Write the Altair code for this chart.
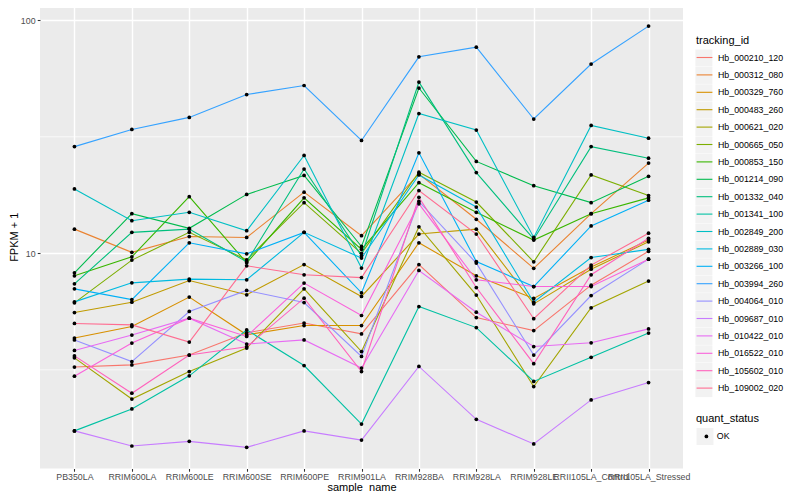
import altair as alt
import pandas as pd

samples = ["PB350LA", "RRIM600LA", "RRIM600LE", "RRIM600SE", "RRIM600PE", "RRIM901LA",
           "RRIM928BA", "RRIM928LA", "RRIM928LE", "RRII105LA_Control", "RRII105LA_Stressed"]

ids = ["Hb_000210_120", "Hb_000312_080", "Hb_000329_760", "Hb_000483_260", "Hb_000621_020",
       "Hb_000665_050", "Hb_000853_150", "Hb_001214_090", "Hb_001332_040", "Hb_001341_100",
       "Hb_002849_200", "Hb_002889_030", "Hb_003266_100", "Hb_003994_260", "Hb_004064_010",
       "Hb_009687_010", "Hb_010422_010", "Hb_016522_010", "Hb_105602_010", "Hb_109002_020"]

colors = ["#F8766D", "#EA8331", "#D89000", "#C09B00", "#A3A500", "#7CAE00", "#39B600",
          "#00BB4E", "#00BF7D", "#00C1A3", "#00BFC4", "#00BAE0", "#00B0F6", "#35A2FF",
          "#9590FF", "#C77CFF", "#E76BF3", "#FA62DB", "#FF62BC", "#FF6C91"]

# FPKM + 1 per tracking_id, one value per sample (in sample order)
hb_000210_120 = [3.25, 3.32, 3.66, 4.56, 5.02, 4.51, 8.95, 5.30, 4.66, 7.30, 10.2]
hb_000312_080 = [12.7, 10.1, 11.8, 11.7, 18.3, 11.9, 21.9, 14.0, 8.62, 14.8, 24.4]
hb_000329_760 = [4.33, 4.85, 6.49, 4.47, 4.90, 4.90, 11.1, 8.01, 6.40, 8.73, 11.4]
hb_000483_260 = [5.57, 6.17, 7.64, 6.64, 8.95, 6.53, 12.1, 12.7, 6.07, 8.55, 11.2]
hb_000621_020 = [3.56, 2.37, 3.11, 3.92, 7.04, 3.79, 13.0, 6.62, 2.68, 5.84, 7.60]
hb_000665_050 = [6.13, 9.35, 12.3, 9.38, 16.5, 10.0, 22.3, 16.6, 9.19, 21.7, 17.7]
hb_000853_150 = [8.01, 9.66, 17.5, 9.10, 17.3, 10.4, 20.1, 15.0, 11.4, 14.8, 17.3]
hb_001214_090 = [8.25, 14.8, 12.8, 17.9, 21.6, 10.7, 51.2, 24.8, 19.5, 16.5, 21.4]
hb_001332_040 = [7.40, 12.3, 12.7, 9.19, 23.0, 9.76, 54.3, 22.2, 11.5, 28.7, 25.6]
hb_001341_100 = [1.73, 2.15, 2.98, 4.69, 3.30, 1.85, 5.91, 4.80, 2.82, 3.58, 4.55]
hb_002849_200 = [18.9, 13.8, 15.0, 12.5, 26.3, 8.64, 39.8, 33.8, 11.7, 35.4, 31.2]
hb_002889_030 = [6.19, 7.47, 7.75, 7.70, 12.3, 9.54, 21.7, 15.8, 6.17, 9.59, 10.4]
hb_003266_100 = [7.04, 6.33, 11.1, 9.95, 12.3, 6.77, 27.0, 9.22, 7.20, 13.1, 16.9]
hb_003994_260 = [28.7, 34.0, 38.3, 48.0, 52.5, 30.5, 69.7, 76.7, 37.7, 64.9, 94.4]
hb_004064_010 = [4.25, 3.43, 5.63, 6.93, 6.15, 3.61, 16.7, 9.08, 3.66, 6.59, 9.44]
hb_009687_010 = [1.73, 1.49, 1.56, 1.47, 1.73, 1.58, 3.27, 1.94, 1.52, 2.35, 2.79]
hb_010422_010 = [3.83, 4.46, 5.27, 4.08, 4.25, 3.22, 8.44, 5.59, 3.98, 4.13, 4.74]
hb_016522_010 = [2.97, 4.12, 5.27, 4.40, 7.45, 5.41, 16.3, 7.70, 7.20, 7.20, 9.44]
hb_105602_010 = [3.63, 2.51, 3.66, 3.97, 6.42, 3.11, 17.4, 7.13, 3.36, 8.09, 11.6]
hb_109002_020 = [5.00, 4.93, 4.16, 8.84, 8.09, 7.87, 18.6, 12.1, 5.24, 8.90, 12.2]

series = [hb_000210_120, hb_000312_080, hb_000329_760, hb_000483_260, hb_000621_020,
          hb_000665_050, hb_000853_150, hb_001214_090, hb_001332_040, hb_001341_100,
          hb_002849_200, hb_002889_030, hb_003266_100, hb_003994_260, hb_004064_010,
          hb_009687_010, hb_010422_010, hb_016522_010, hb_105602_010, hb_109002_020]

quant_status = "OK"
y_breaks = [10, 100]
minor_breaks = [3.1623, 31.623]
y_limits = [1.193, 116.3]
key_fill = "#F2F2F2"

# keys for the grey legend boxes (distinct values so Vega-Lite keeps separate legends)
box_keys = ["box " + t for t in ids]
ok_key = "box " + quant_status

rows = []
for tid, bk, vals in zip(ids, box_keys, series):
    for i, (s, v) in enumerate(zip(samples, vals)):
        rows.append({"tracking_id": tid, "key_id": bk, "sample_name": s, "idx": i,
                     "fpkm1": v, "quant_status": quant_status, "key_status": ok_key})
df = pd.DataFrame(rows)
minor_df = pd.DataFrame({"fpkm1": minor_breaks})

FONT = "Liberation Sans"

yscale = alt.Scale(type="log", domain=y_limits, nice=False)
xscale = alt.Scale(type="point", padding=0.6)

x_enc = alt.X("sample_name:N", sort=samples, scale=xscale,
              axis=alt.Axis(title="sample_name", labelAngle=0, labelAlign="center",
                            labelBaseline="top", labelFontSize=8.8,
                            labelColor="#4D4D4D", tickColor="#333333", tickSize=2.75,
                            tickWidth=1.07, labelPadding=1, domain=False, grid=True,
                            gridColor="white", gridWidth=1.4, titleFontSize=11,
                            titleFontWeight="normal", titleColor="black", titlePadding=0,
                            labelOverlap=False, labelFlush=False))
y_enc = alt.Y("fpkm1:Q", scale=yscale,
              axis=alt.Axis(title="FPKM + 1", values=y_breaks, format="d", labelFontSize=8.8,
                            labelColor="#4D4D4D", tickColor="#333333", tickSize=2.75,
                            tickWidth=1.07, labelPadding=2.2, domain=False, grid=True,
                            gridColor="white", gridWidth=1.4, titleFontSize=11,
                            titleFontWeight="normal", titleColor="black", titlePadding=1))

minor = alt.Chart(minor_df).mark_rule(color="white", strokeWidth=0.7).encode(
    y=alt.Y("fpkm1:Q", scale=yscale, title="FPKM + 1")
)

# invisible layer: its legend draws the grey key boxes behind the tracking_id keys
key_boxes = alt.Chart(df).mark_square(opacity=0).encode(
    x=x_enc, y=y_enc,
    color=alt.Color("key_id:N",
                    scale=alt.Scale(domain=box_keys, range=[key_fill] * len(box_keys)),
                    legend=alt.Legend(title=None, orient="none", legendX=655.4, legendY=44.5,
                                      symbolType="square", symbolSize=289,
                                      symbolStrokeWidth=0, symbolOpacity=1,
                                      symbolFillColor=key_fill, labelExpr="''",
                                      labelFontSize=8.8, rowPadding=0.4, padding=0)),
)

# invisible layer: its legend draws the grey key box behind the quant_status key
ok_box = alt.Chart(df).mark_square(opacity=0).encode(
    x=x_enc, y=y_enc,
    fill=alt.Fill("key_status:N", scale=alt.Scale(domain=[ok_key], range=[key_fill]),
                  legend=alt.Legend(title=None, orient="none", legendX=656.5, legendY=423,
                                    symbolType="square", symbolSize=289,
                                    symbolStrokeWidth=0, symbolOpacity=1,
                                    symbolFillColor=key_fill, labelExpr="''",
                                    labelFontSize=8.8, padding=0)),
)

lines = alt.Chart(df).mark_line(strokeWidth=1.1).encode(
    x=x_enc,
    y=y_enc,
    stroke=alt.Stroke("tracking_id:N", scale=alt.Scale(domain=ids, range=colors),
                      legend=alt.Legend(title="tracking_id", orient="none", legendX=656,
                                        legendY=30, symbolType="stroke", symbolSize=250,
                                        symbolStrokeWidth=1.1, labelFontSize=8.8,
                                        labelColor="black", titleFontSize=11,
                                        titleFontWeight="normal", titleColor="black",
                                        titlePadding=3, rowPadding=3.4, padding=0,
                                        labelOffset=5)),
    order=alt.Order("idx:Q"),
)

points = alt.Chart(df).mark_point(filled=True, size=14, opacity=1, color="black").encode(
    x=x_enc,
    y=y_enc,
    shape=alt.Shape("quant_status:N", scale=alt.Scale(domain=[quant_status], range=["circle"]),
                    legend=alt.Legend(title="quant_status", orient="none", legendX=656,
                                      legendY=408, symbolSize=14, symbolFillColor="black",
                                      symbolStrokeColor="black", symbolOffset=6,
                                      labelFontSize=8.8, labelColor="black",
                                      titleFontSize=11, titleFontWeight="normal",
                                      titleColor="black", titlePadding=8, padding=0,
                                      labelOffset=6)),
)

chart = alt.layer(minor, key_boxes, ok_box, lines, points).properties(
    width=643, height=463.5,
    padding={"left": 32, "top": -3, "right": 109, "bottom": 23.5},
    autosize=alt.AutoSizeParams(type="none"),
).configure(font=FONT, background="white").configure_view(fill="#EBEBEB", strokeWidth=0)

chart.save("out.html", embed_options={"renderer": "svg", "actions": False})
